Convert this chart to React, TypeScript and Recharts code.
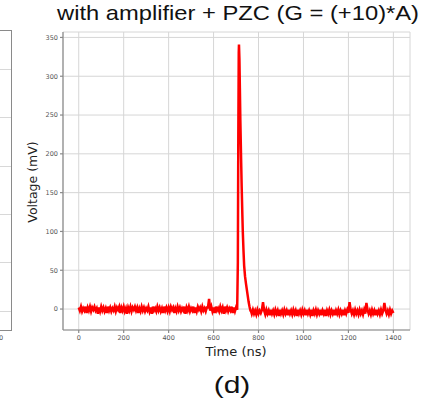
import { LineChart, Line, XAxis, YAxis, CartesianGrid } from 'recharts';

// noisy baseline before the pulse, one value every 5 ns from 0 to 705 ns (mV)
const beforeStart = 0;
const baselineBefore = [
  2, -2, 3, -3, 1, -2, 3, -5, 2, -2,
  3, -3, 2, -1, 3, -2, 1, -6, 2, -3,
  3, -2, 2, -3, 1, -5, 3, -2, 2, -3,
  1, -2, 3, -3, 2, -1, 3, -5, 2, -2,
  3, -3, 1, -6, 2, -2, 3, -3, 2, -1,
  3, -2, 2, -5, 1, -3, 3, -2, 2, -3,
  1, -2, 3, -3, 2, -6, 3, -2, 1, -3,
  3, -2, 2, -3, 1, -5, 3, -2, 2, -3,
  2, -3, 3, -1, 2, -5, 1, -3, 3, -2,
  2, -3, 1, -2, 3, -6, 2, -2, 3, -3,
  1, -2, 3, -5, 2, -3, 3, -1, 2, -3,
  3, -2, 1, -3, 2, 2, 13, -2, 3, -3,
  2, -5, 3, -2, 1, -3, 3, -2, 2, -6,
  3, -2, 2, -3, 1, -2, 3, -5, 2, -3,
  2, -1,
];

// the pulse itself (ns, mV)
const pulseTimes = [708, 710, 712, 713, 715, 717, 719, 722, 725, 728, 730, 733, 736, 740, 744, 748, 752, 756, 760, 764, 768];
const pulseValues = [60, 220, 330, 341, 322, 285, 245, 200, 158, 122, 100, 76, 56, 42, 33, 25, 17, 9, 3, -2, -4];

// baseline after the pulse, one value every 5 ns from 770 to 1400 ns (mV)
const afterStart = 770;
const baselineAfter = [
  -6, -1, -6, -2, -7, -1,
  -6, -2, -5, -1, 9, -2, -7, -1, -6, -2,
  -8, -1, -6, -2, -7, -1, -6, -2, -9, -1,
  -6, -2, -7, -1, -6, -2, -8, -1, -6, -2,
  -7, -1, -6, -2, -9, -1, -6, -2, -7, -1,
  -6, -2, -8, -1, -6, -2, -7, -1, -9, -2,
  -6, -1, -7, -2, -6, -1, -8, -2, -6, -1,
  -9, -2, -6, -1, -7, -2, -6, -1, -8, -2,
  -6, -1, -7, -2, -6, -1, -8, -2, -6, -1,
  -5, 9, -1, -6, -2, -7, -1, -6, -2, -7,
  -1, -6, -2, -7, -1, -6, 8, -1, -6, -2,
  -7, -1, -6, -2, -8, -1, -6, -2, -7, -1,
  -6, -2, 8, -1, -6, -2, -7, -1, -6, -2,
  -5,
];

const xTicks = [0, 200, 400, 600, 800, 1000, 1200, 1400];
const yTicks = [0, 50, 100, 150, 200, 250, 300, 350];
const leftGridY = [69, 117, 166, 214, 262, 311];

const data = [
  ...baselineBefore.map((v, i) => ({ t: beforeStart + i * 5, v })),
  ...pulseTimes.map((t, i) => ({ t, v: pulseValues[i] })),
  ...baselineAfter.map((v, i) => ({ t: afterStart + i * 5, v })),
];

const tickFont = { fontSize: 6.5, fill: '#555', fontFamily: 'DejaVu Sans' };
const boxColor = '#8a8a8a';

export default function App() {
  return (
    <div style={{ position: 'fixed', left: 0, top: 0, width: 448, height: 404, background: '#fff', overflow: 'hidden' }}>
      {/* edge of the neighbouring panel */}
      <div style={{ position: 'absolute', left: -2, top: 30, width: 12, height: 299, border: `1.2px solid ${boxColor}` }} />
      {leftGridY.map((y) => (
        <div key={y} style={{ position: 'absolute', left: 0, top: y, width: 11, height: 1, background: '#d8d8d8' }} />
      ))}
      <div style={{ position: 'absolute', left: -1, top: 334, fontSize: 6.5, color: '#555', fontFamily: 'DejaVu Sans' }}>0</div>

      <div style={{ position: 'absolute', left: 238, top: 13, transform: 'translate(-50%, -50%) scaleX(1.13)', fontFamily: 'Liberation Sans', fontSize: 21, color: '#111', whiteSpace: 'nowrap' }}>
        with amplifier + PZC (G = (+10)*A)
      </div>

      <LineChart width={448} height={404} data={data} margin={{ top: 32, right: 38, bottom: 54, left: 43 }} style={{ position: 'absolute', left: 0, top: 0 }}>
        <CartesianGrid stroke="#d6d6d6" strokeWidth={1} />
        <XAxis dataKey="t" type="number" domain={[-70, 1474]} ticks={xTicks} allowDataOverflow height={20}
          stroke={boxColor} strokeWidth={1.2} tickSize={3} tickMargin={2} tick={tickFont} interval={0} />
        <XAxis xAxisId="top" orientation="top" type="number" domain={[-70, 1474]} height={0}
          stroke={boxColor} strokeWidth={1.2} tick={false} tickLine={false} />
        <YAxis type="number" domain={[-27, 357]} ticks={yTicks} allowDataOverflow width={20}
          stroke={boxColor} strokeWidth={1.2} tickSize={3} tickMargin={2} tick={tickFont} interval={0} />
        <YAxis yAxisId="right" orientation="right" type="number" domain={[-27, 357]} width={0}
          stroke={boxColor} strokeWidth={1.2} tick={false} tickLine={false} />
        <Line dataKey="v" type="linear" stroke="#ff0000" strokeWidth={2.5} dot={false} isAnimationActive={false} />
      </LineChart>

      <div style={{ position: 'absolute', left: 32, top: 182, transform: 'translate(-50%, -50%) rotate(-90deg)', fontFamily: 'DejaVu Sans', fontSize: 12.5, color: '#222', whiteSpace: 'nowrap' }}>
        Voltage (mV)
      </div>
      <div style={{ position: 'absolute', left: 236, top: 351, transform: 'translate(-50%, -50%)', fontFamily: 'DejaVu Sans', fontSize: 13, color: '#222', whiteSpace: 'nowrap' }}>
        Time (ns)
      </div>
      <div style={{ position: 'absolute', left: 232, top: 385, transform: 'translate(-50%, -50%) scaleX(1.25)', fontFamily: 'Liberation Sans', fontSize: 24, color: '#111', whiteSpace: 'nowrap' }}>
        (d)
      </div>
    </div>
  );
}
